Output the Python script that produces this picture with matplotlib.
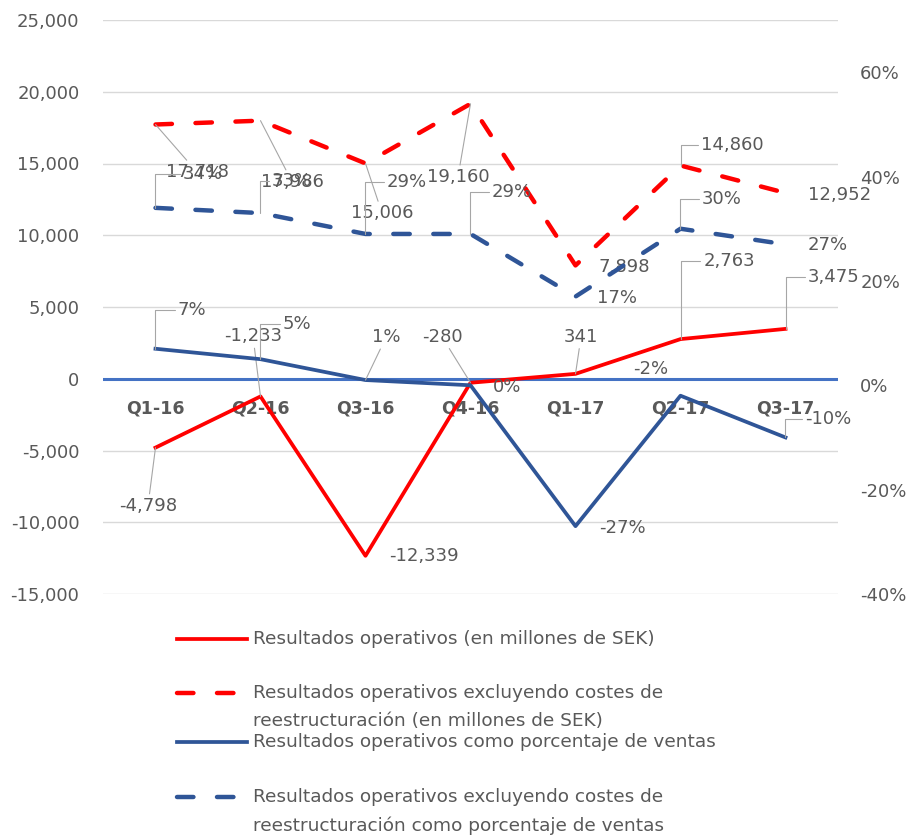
import matplotlib.pyplot as plt
from matplotlib.lines import Line2D
from matplotlib.ticker import FuncFormatter

# data
quarters = ["Q1-16", "Q2-16", "Q3-16", "Q4-16", "Q1-17", "Q2-17", "Q3-17"]
op_result = [-4798, -1233, -12339, -280, 341, 2763, 3475]
op_result_excl = [17718, 17986, 15006, 19160, 7898, 14860, 12952]
op_pct = [0.07, 0.05, 0.01, 0.00, -0.27, -0.02, -0.10]
op_pct_excl = [0.34, 0.33, 0.29, 0.29, 0.17, 0.30, 0.27]

legend_labels = [
    ["Resultados operativos (en millones de SEK)"],
    ["Resultados operativos excluyendo costes de",
     "reestructuración (en millones de SEK)"],
    ["Resultados operativos como porcentaje de ventas"],
    ["Resultados operativos excluyendo costes de",
     "reestructuración como porcentaje de ventas"],
]

RED = "#FF0000"
BLUE = "#2F5597"
ZERO_BLUE = "#4472C4"
GRAY = "#595959"
LEADER = "#a6a6a6"
DASH = (3.7, 5.3)

# data label placement: offset in pixels from the point, and leader kind
# s = straight leader, b = bracket leader, None = no leader
red_offsets = [(-7.5, -58), (-7.5, 60), (58.5, 0), (-28.5, 46), (5.5, 37), (48.5, 78), (48.5, 52)]
red_leaders = ["s", "s", None, "s", "s", "b", "b"]
red_excl_offsets = [(41.5, -47.5), (31.5, -61), (16.5, -49.6), (-12.5, -73), (48.5, -1.6), (51.5, 20.5), (54.5, -2)]
red_excl_leaders = ["s", "s", "s", "s", None, "b", None]
blue_excl_offsets = [(47.5, 33.4), (31.5, 31.6), (41.5, 51.5), (41.5, 41.5), (41.5, -1.8), (41.5, 30.2), (42.5, -1)]
blue_excl_leaders = ["b", "b", "b", "b", None, "b", None]
blue_offsets = [(36.5, 38.4), (36.5, 35), (20.5, 42.8), (36.5, -2), (46.5, -2), (-29.5, 26.5), (42.5, 18)]
blue_leaders = ["b", "b", "s", None, None, None, "b"]


def add_labels(axis, values, offsets, leaders, fmt):
    for i, (v, (dx, dy), kind) in enumerate(zip(values, offsets, leaders)):
        props = None
        if kind == "s":
            props = dict(arrowstyle="-", color=LEADER, lw=0.8, shrinkA=0, shrinkB=0)
        elif kind == "b":
            props = dict(arrowstyle="-", color=LEADER, lw=0.8, shrinkA=0, shrinkB=0,
                         connectionstyle="angle,angleA=0,angleB=90,rad=0")
        axis.annotate(fmt(v), xy=(i, v), xytext=(dx, dy), textcoords="offset pixels",
                      ha="center", va="center", fontsize=13, color=GRAY,
                      arrowprops=props, zorder=5)


W, H = 909, 836
fig = plt.figure(figsize=(W / 100, H / 100), dpi=100)
ax = fig.add_axes([103 / W, 1 - 594 / H, (838 - 103) / W, (594 - 20) / H])
ax2 = ax.twinx()

x = list(range(len(quarters)))

ax.axhline(0, color=ZERO_BLUE, lw=2.2, zorder=1)
ax.plot(x, op_result, color=RED, lw=2.7, zorder=3)
ax.plot(x, op_result_excl, color=RED, lw=3.2, dashes=DASH, dash_capstyle="round", zorder=3)
ax2.plot(x, op_pct, color=BLUE, lw=2.7, zorder=3)
ax2.plot(x, op_pct_excl, color=BLUE, lw=3.2, dashes=DASH, dash_capstyle="round", zorder=3)

ax.set_xlim(-0.5, len(quarters) - 0.5)
ax.set_ylim(-15000, 25000)
ax.set_yticks(range(-15000, 25001, 5000))
ax.yaxis.set_major_formatter(FuncFormatter(lambda v, p: f"{v:,.0f}"))
ax2.set_ylim(-0.40, 0.70)
ax2.set_yticks([-0.4, -0.2, 0.0, 0.2, 0.4, 0.6])
ax2.yaxis.set_major_formatter(FuncFormatter(lambda v, p: f"{v:.0%}"))

ax.grid(axis="y", color="#d9d9d9", lw=1)
ax.set_axisbelow(True)

for a in (ax, ax2):
    for side in ("top", "left", "right"):
        a.spines[side].set_visible(False)
ax2.spines["bottom"].set_visible(False)
ax.spines["bottom"].set_position(("data", 0))
ax.spines["bottom"].set_visible(False)

ax.set_xticks(x)
ax.set_xticklabels(quarters, fontsize=12.5, fontweight="bold", color=GRAY)
ax.tick_params(axis="x", length=0, pad=15)
ax.tick_params(axis="y", length=0, pad=17, labelsize=13, labelcolor=GRAY)
ax2.tick_params(axis="y", length=0, pad=16, labelsize=13, labelcolor=GRAY)

add_labels(ax, op_result, red_offsets, red_leaders, lambda v: f"{v:,}")
add_labels(ax, op_result_excl, red_excl_offsets, red_excl_leaders, lambda v: f"{v:,}")
add_labels(ax2, op_pct_excl, blue_excl_offsets, blue_excl_leaders, lambda v: f"{v:.0%}")
add_labels(ax2, op_pct, blue_offsets, blue_leaders, lambda v: f"{v:.0%}")

# legend drawn by hand below the plot, Excel style
legend_styles = [
    dict(color=RED, lw=2.7),
    dict(color=RED, lw=3.2, dashes=DASH, dash_capstyle="round"),
    dict(color=BLUE, lw=2.7),
    dict(color=BLUE, lw=3.2, dashes=DASH, dash_capstyle="round"),
]
legend_rows = [638.5, 692.5, 742, 797]
line_gap = 28.7
for style, label_lines, y in zip(legend_styles, legend_labels, legend_rows):
    fig.add_artist(Line2D([177 / W, 247 / W], [1 - y / H, 1 - y / H], **style))
    for k, line in enumerate(label_lines):
        fig.text(253 / W, 1 - (y + k * line_gap) / H, line, ha="left", va="center",
                 fontsize=13.3, color=GRAY)

fig.savefig("out.png", dpi=100)
